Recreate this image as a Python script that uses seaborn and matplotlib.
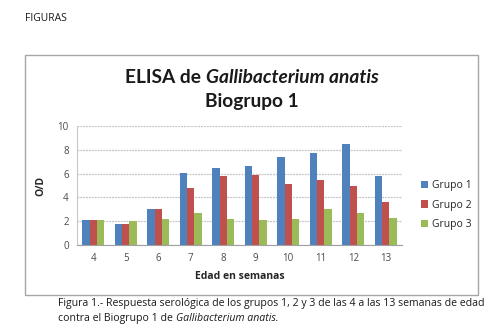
import matplotlib
matplotlib.use("Agg")
import matplotlib.pyplot as plt
import seaborn as sns
import pandas as pd
from matplotlib.patches import Rectangle

weeks = ["4", "5", "6", "7", "8", "9", "10", "11", "12", "13"]
grupo1 = [2.1, 1.8, 3.0, 6.05, 6.45, 6.6, 7.4, 7.7, 8.45, 5.8]
grupo2 = [2.1, 1.8, 3.0, 4.8, 5.8, 5.85, 5.1, 5.5, 5.0, 3.6]
grupo3 = [2.1, 2.0, 2.2, 2.7, 2.15, 2.1, 2.15, 3.05, 2.7, 2.3]
series_names = ["Grupo 1", "Grupo 2", "Grupo 3"]
colors = ["#4F81BD", "#C0504D", "#9BBB59"]
y_ticks = [0, 2, 4, 6, 8, 10]

df = pd.DataFrame({
    "semana": weeks * 3,
    "valor": grupo1 + grupo2 + grupo3,
    "grupo": [series_names[0]] * 10 + [series_names[1]] * 10 + [series_names[2]] * 10,
})

sns.set_theme(style="white")
plt.rcParams["font.family"] = ["Open Sans", "DejaVu Sans"]

W, H = 502, 336
fig = plt.figure(figsize=(W / 100, H / 100), dpi=100)
fig.patch.set_facecolor("white")

def fx(x):
    return x / W

def fy(y):
    return 1 - y / H

# chart frame
fig.patches.append(Rectangle((fx(25), fy(295)), fx(478) - fx(25), fy(55) - fy(295),
                             transform=fig.transFigure, fill=False,
                             edgecolor="#A6A6A6", linewidth=1.0))

ax = fig.add_axes([fx(77), fy(245), fx(402) - fx(77), fy(126) - fy(245)])
sns.barplot(data=df, x="semana", y="valor", hue="grupo", palette=colors,
            width=0.68, gap=0, ax=ax, legend=True, saturation=1, linewidth=0)
ax.set_ylim(0, 10)
ax.set_yticks(y_ticks)
ax.set_xlim(-0.5, 9.5)
ax.yaxis.grid(True, color="#C4C4C4", linestyle=(0, (1.5, 0.8)), linewidth=0.9)
ax.set_axisbelow(True)
for s in ["top", "right"]:
    ax.spines[s].set_visible(False)
ax.spines["left"].set_color("#C8C8C8")
ax.spines["bottom"].set_color("#A0A0A0")
ax.spines["left"].set_linewidth(0.8)
ax.spines["bottom"].set_linewidth(0.8)
ax.tick_params(axis="y", length=3, color="#A0A0A0", labelsize=7, labelcolor="#4A4A4A", pad=3)
ax.tick_params(axis="x", length=0, labelsize=7, labelcolor="#4A4A4A", pad=6)
ax.set_ylabel("O/D", fontsize=7.5, fontweight="bold", color="#262626", labelpad=8)
ax.set_xlabel("Edad en semanas", fontsize=7.5, fontweight="bold", color="#262626", labelpad=5)

leg = ax.legend(loc="center left", bbox_to_anchor=(1.03, 0.335), frameon=False,
                fontsize=7.5, handlelength=0.7, handleheight=0.7, handletextpad=0.3,
                labelspacing=0.8)
for t in leg.get_texts():
    t.set_color("#262626")

renderer = fig.canvas.get_renderer()

def draw_segments(segments, x, y, ha="left", **common):
    texts = []
    widths = []
    for txt, style, weight in segments:
        t = fig.text(0, 0, txt, style=style, fontweight=weight, va="baseline", **common)
        bb = t.get_window_extent(renderer=renderer)
        texts.append(t)
        widths.append(bb.width)
    total = sum(widths)
    start = x - total / 2 if ha == "center" else x
    cur = start
    for t, w in zip(texts, widths):
        t.set_position((fx(cur), fy(y)))
        cur += w

title_font = dict(fontsize=13.8, color="#1A1A1A", family=["Lato", "DejaVu Sans"])
draw_segments([("ELISA de ", "normal", "bold"), ("Gallibacterium anatis", "italic", "bold")],
              252, 83, ha="center", **title_font)
draw_segments([("Biogrupo 1", "normal", "bold")], 252, 107, ha="center", **title_font)

fig.text(fx(25), fy(21), "FIGURAS", fontsize=7.5, color="#1A1A1A", va="baseline")

cap_font = dict(fontsize=7.6, color="#1A1A1A")
draw_segments([("Figura 1.- Respuesta serológica de los grupos 1, 2 y 3 de las 4 a las 13 semanas de edad", "normal", "normal")],
              58, 306, **cap_font)
draw_segments([("contra el Biogrupo 1 de ", "normal", "normal"), ("Gallibacterium anatis.", "italic", "normal")],
              58, 321, **cap_font)

fig.savefig("out.png", dpi=100)
